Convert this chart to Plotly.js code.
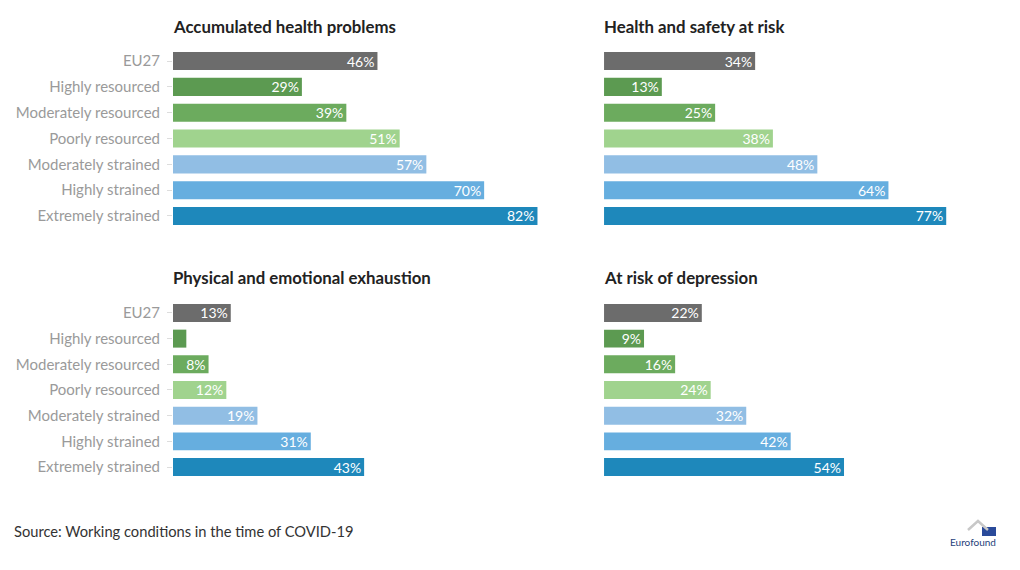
<!DOCTYPE html>
<html>
<head>
<meta charset="utf-8">
<script src="https://cdn.plot.ly/plotly-3.0.1.min.js"></script>
<style>html,body{margin:0;padding:0;background:#fff;}#chart{width:1020px;height:570px;}</style>
</head>
<body>
<div id="chart"></div>
<script>
const categories = ["EU27", "Highly resourced", "Moderately resourced", "Poorly resourced", "Moderately strained", "Highly strained", "Extremely strained"];
const panelTitles = ["Accumulated health problems", "Health and safety at risk", "Physical and emotional exhaustion", "At risk of depression"];
const healthProblems = [46, 29, 39, 51, 57, 70, 82];
const safetyRisk = [34, 13, 25, 38, 48, 64, 77];
const exhaustion = [13, 3, 8, 12, 19, 31, 43];
const depression = [22, 9, 16, 24, 32, 42, 54];
const barColors = ["#6c6c6c", "#5c9a51", "#6cab5e", "#a0d38e", "#91bee4", "#66aedf", "#1e88bb"];
const sourceText = "Source: Working conditions in the time of COVID-19";

const series = [healthProblems, safetyRisk, exhaustion, depression];
const font = "Lato, 'Open Sans', sans-serif";
const traces = series.map((vals, i) => ({
  type: "bar",
  orientation: "h",
  x: vals,
  y: categories,
  xaxis: i === 0 ? "x" : "x" + (i + 1),
  yaxis: i === 0 ? "y" : "y" + (i + 1),
  marker: {color: barColors},
  width: 0.7,
  text: vals.map(v => (v >= 5 ? v + "%" : "")),
  textposition: "inside",
  insidetextanchor: "end",
  constraintext: "none",
  textangle: 0,
  textfont: {family: font, size: 14, color: "#ffffff"},
  hoverinfo: "none",
  cliponaxis: false
}));

const xd = [[0.1696, 0.5618], [0.5922, 0.9843]];
const yd = [[0.5984, 0.9156], [0.1581, 0.4735]];
const layout = {
  width: 1020, height: 570,
  margin: {l: 0, r: 0, t: 0, b: 0},
  paper_bgcolor: "#ffffff", plot_bgcolor: "#ffffff",
  showlegend: false,
  font: {family: font},
  bargap: 0.3,
  annotations: [],
  shapes: []
};
for (let i = 0; i < 4; i++) {
  const col = i % 2, row = Math.floor(i / 2);
  const xk = i === 0 ? "xaxis" : "xaxis" + (i + 1);
  const yk = i === 0 ? "yaxis" : "yaxis" + (i + 1);
  layout[xk] = {domain: xd[col], range: [0, 90], visible: false, fixedrange: true, anchor: i === 0 ? "y" : "y" + (i + 1)};
  layout[yk] = {
    domain: yd[row], autorange: "reversed", anchor: i === 0 ? "x" : "x" + (i + 1),
    showticklabels: col === 0, ticks: col === 0 ? "outside" : "", ticklen: 5, tickcolor: "#dddddd",
    ticklabelstandoff: 4,
    showline: false, showgrid: false, zeroline: false,
    tickfont: {family: font, size: 15, color: "#9a9a9a"}
  };
  layout.annotations.push({
    text: "<b>" + panelTitles[i] + "</b>", xref: "paper", yref: "paper",
    x: xd[col][0] - 2 / 1020, y: row === 0 ? 1 - 26 / 570 : 1 - 277 / 570,
    xanchor: "left", yanchor: "middle", showarrow: false,
    font: {family: font, size: 16.8, color: "#222222"}
  });
}
layout.annotations.push({
  text: sourceText, xref: "paper", yref: "paper", x: 12 / 1020, y: 1 - 531 / 570,
  xanchor: "left", yanchor: "middle", showarrow: false,
  font: {family: font, size: 14.7, color: "#333333"}
});
layout.annotations.push({
  text: "Eurofound", xref: "paper", yref: "paper", x: 973 / 1020, y: 1 - 542 / 570,
  xanchor: "center", yanchor: "middle", showarrow: false,
  font: {family: font, size: 10, color: "#1f3f7a"}
});
layout.shapes.push({type: "rect", xref: "paper", yref: "paper",
  x0: 982 / 1020, x1: 996 / 1020, y0: 1 - 536 / 570, y1: 1 - 527 / 570,
  fillcolor: "#2a4a9a", line: {width: 0}});
layout.shapes.push({type: "path", xref: "paper", yref: "paper",
  path: "M 0.9490,0.0702 L 0.9588,0.0860 L 0.9686,0.0702", line: {color: "#c8c8c8", width: 2.5}});
Plotly.newPlot("chart", traces, layout, {displayModeBar: false, staticPlot: true});
</script>
</body>
</html>
